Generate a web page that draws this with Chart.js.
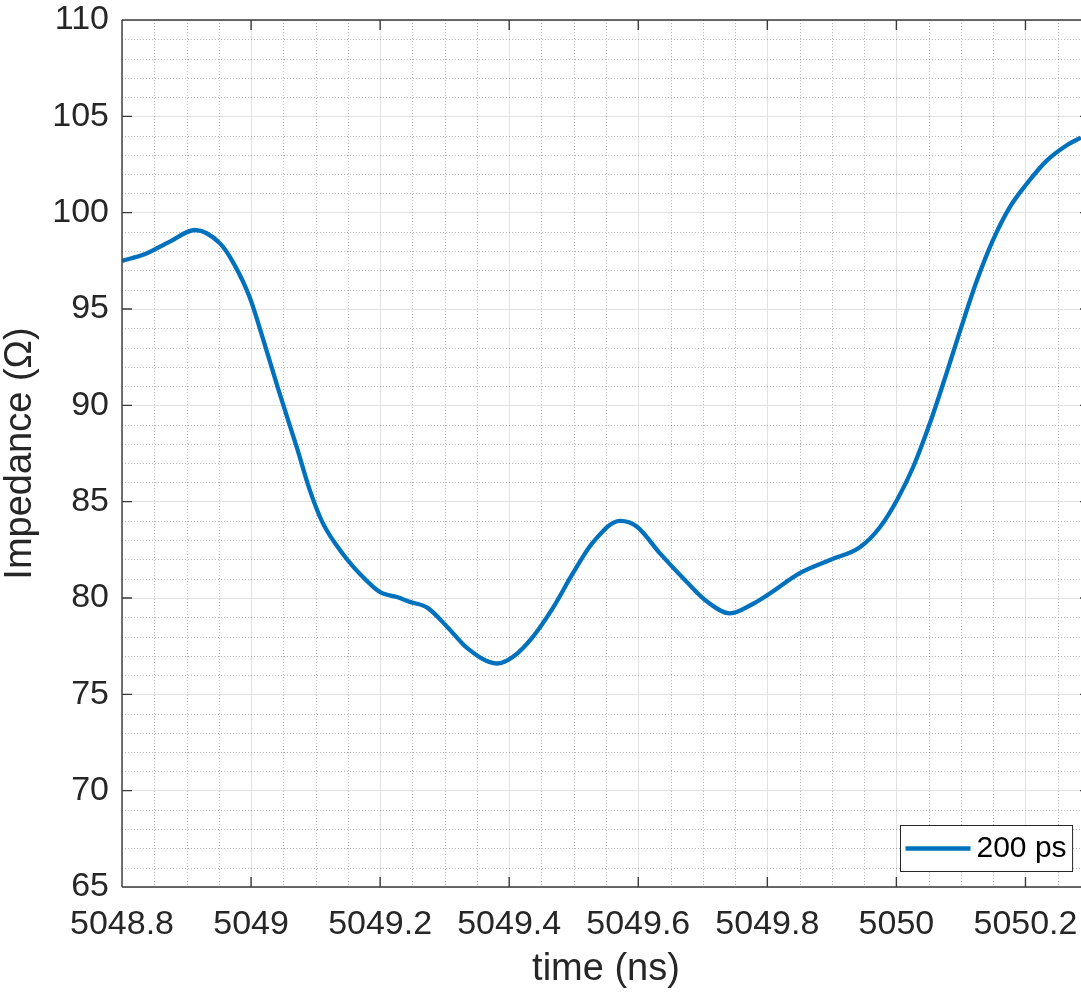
<!DOCTYPE html>
<html>
<head>
<meta charset="utf-8">
<script src="https://cdn.jsdelivr.net/npm/chart.js@4.4.1/dist/chart.umd.min.js"></script>
<style>
  html, body { margin: 0; padding: 0; background: #ffffff; overflow: hidden; }
  #wrap { width: 1081px; height: 992px; position: relative; overflow: hidden; }
  #c { display: block; }
</style>
</head>
<body>
<div id="wrap"><canvas id="c" width="1090" height="992"></canvas></div>
<script>
// ---- data ----
const times = [5048.800, 5048.836, 5048.874, 5048.913, 5048.952, 5048.973, 5048.998, 5049.019, 5049.042, 5049.071,
               5049.091, 5049.111, 5049.142, 5049.173, 5049.200, 5049.226, 5049.246, 5049.273, 5049.304, 5049.335,
               5049.381, 5049.406, 5049.437, 5049.468, 5049.499, 5049.530, 5049.572, 5049.598, 5049.634, 5049.676,
               5049.707, 5049.742, 5049.778, 5049.800, 5049.851, 5049.897, 5049.944, 5049.975, 5050.001, 5050.026,
               5050.052, 5050.078, 5050.099, 5050.125, 5050.150, 5050.176, 5050.202, 5050.233, 5050.264, 5050.286];
const impedance = [97.5, 97.85, 98.5, 99.1, 98.4, 97.37, 95.6, 93.4, 90.85, 87.8,
                   85.6, 83.9, 82.3, 81.1, 80.3, 80.05, 79.8, 79.5, 78.5, 77.4,
                   76.6, 76.95, 78.0, 79.5, 81.3, 82.9, 84.0, 83.7, 82.3, 80.8,
                   79.8, 79.2, 79.7, 80.15, 81.3, 81.97, 82.65, 83.7, 85.09, 86.8,
                   89.08, 91.7, 93.9, 96.5, 98.6, 100.3, 101.5, 102.7, 103.5, 103.9];
const seriesLabel = '200 ps';
const xTickValues = [5048.8, 5049, 5049.2, 5049.4, 5049.6, 5049.8, 5050, 5050.2];
const xTickLabels = ['5048.8', '5049', '5049.2', '5049.4', '5049.6', '5049.8', '5050', '5050.2'];
const yTickValues = [65, 70, 75, 80, 85, 90, 95, 100, 105, 110];
const yTickLabels = ['65', '70', '75', '80', '85', '90', '95', '100', '105', '110'];
const xMin = 5048.8, xMax = 5050.3;
const yMin = 65, yMax = 110;
const xMinorStep = 0.05, yMinorStep = 1;
const xTitle = 'time (ns)';
const yTitle = 'Impedance (\u03A9)';

// ---- styles ----
const FONT = '"Liberation Sans", Arial, Helvetica, sans-serif';
const AX = '#262626';
const LINE = '#0072BD';

const points = times.map((t, i) => ({ x: t, y: impedance[i] }));

function isMultiple(v, step) {
  const r = v / step;
  return Math.abs(r - Math.round(r)) < 1e-6;
}

const matlabAxes = {
  id: 'matlabAxes',
  beforeDatasetsDraw(chart) {
    const { ctx, chartArea: a, scales: { x, y } } = chart;
    ctx.save();
    ctx.beginPath();
    ctx.rect(a.left, a.top, a.right - a.left, a.bottom - a.top);
    ctx.clip();
    ctx.strokeStyle = 'rgba(38,38,38,0.32)';
    ctx.lineWidth = 1;
    ctx.setLineDash([1, 2]);
    ctx.beginPath();
    const xs = Math.ceil(x.min / xMinorStep - 1e-6), xe = Math.floor(x.max / xMinorStep + 1e-6);
    for (let i = xs; i <= xe; i++) {
      const v = i * xMinorStep;
      if (isMultiple(v, 0.2)) continue;
      const px = Math.round(x.getPixelForValue(v)) + 0.5;
      ctx.moveTo(px, a.top); ctx.lineTo(px, a.bottom);
    }
    const ys = Math.ceil(y.min / yMinorStep - 1e-6), ye = Math.floor(y.max / yMinorStep + 1e-6);
    for (let i = ys; i <= ye; i++) {
      const v = i * yMinorStep;
      if (isMultiple(v, 5)) continue;
      const py = Math.round(y.getPixelForValue(v)) + 0.5;
      ctx.moveTo(a.left, py); ctx.lineTo(a.right, py);
    }
    ctx.stroke();
    ctx.restore();
  },
  afterDatasetsDraw(chart) {
    const { ctx, chartArea: a, scales: { x, y } } = chart;
    ctx.save();
    ctx.strokeStyle = '#3a3a3a';
    ctx.lineWidth = 1.4;
    ctx.setLineDash([]);
    // box lines
    ctx.beginPath();
    ctx.moveTo(a.left, a.top); ctx.lineTo(a.right, a.top);
    ctx.moveTo(a.left, a.bottom); ctx.lineTo(a.right, a.bottom);
    ctx.moveTo(a.left, a.top); ctx.lineTo(a.left, a.bottom);
    ctx.moveTo(a.right, a.top); ctx.lineTo(a.right, a.bottom);
    // inward ticks
    const tl = 10;
    xTickValues.forEach(v => {
      const px = x.getPixelForValue(v);
      ctx.moveTo(px, a.bottom); ctx.lineTo(px, a.bottom - tl);
      ctx.moveTo(px, a.top); ctx.lineTo(px, a.top + tl);
    });
    yTickValues.forEach(v => {
      const py = y.getPixelForValue(v);
      ctx.moveTo(a.left, py); ctx.lineTo(a.left + tl, py);
      ctx.moveTo(a.right, py); ctx.lineTo(a.right - tl, py);
    });
    ctx.stroke();

    // legend (southeast, inside axes)
    const ds = chart.data.datasets[0];
    ctx.font = '30px ' + FONT;
    const tw = ctx.measureText(ds.label).width;
    const lineLen = 65, pad = 5, gap = 6;
    const bw = pad + lineLen + gap + tw + 6;
    const bh = 46;
    const bx = Math.round(a.right - 18 - bw) + 0.5;
    const by = Math.round(a.bottom - 16 - bh) + 0.5;
    ctx.fillStyle = '#ffffff';
    ctx.fillRect(bx, by, bw, bh);
    ctx.strokeStyle = '#262626';
    ctx.lineWidth = 1;
    ctx.strokeRect(bx, by, bw, bh);
    const cy = by + bh / 2;
    ctx.strokeStyle = ds.borderColor;
    ctx.lineWidth = ds.borderWidth;
    ctx.beginPath();
    ctx.moveTo(bx + pad, cy); ctx.lineTo(bx + pad + lineLen, cy);
    ctx.stroke();
    ctx.fillStyle = '#000000';
    ctx.textBaseline = 'middle';
    ctx.textAlign = 'left';
    ctx.fillText(ds.label, bx + pad + lineLen + gap, cy);
    ctx.restore();
  }
};

new Chart(document.getElementById('c'), {
  type: 'line',
  data: {
    datasets: [{
      label: seriesLabel,
      data: points,
      borderColor: LINE,
      backgroundColor: LINE,
      borderWidth: 4.3,
      pointRadius: 0,
      fill: false,
      cubicInterpolationMode: 'monotone'
    }]
  },
  options: {
    responsive: false,
    devicePixelRatio: 1,
    animation: false,
    events: [],
    layout: { padding: { top: 20, right: 0, left: 0, bottom: 0 } },
    plugins: { legend: { display: false }, tooltip: { enabled: false } },
    scales: {
      x: {
        type: 'linear',
        min: xMin, max: xMax,
        afterBuildTicks: s => { s.ticks = xTickValues.map(v => ({ value: v })); },
        afterFit: s => { s.height = 105; s.paddingLeft = 0; s.paddingRight = 0; },
        ticks: {
          autoSkip: false, maxRotation: 0, minRotation: 0,
          padding: 17,
          color: AX,
          font: { family: FONT, size: 34 },
          callback: (v) => { const i = xTickValues.findIndex(t => Math.abs(t - v) < 1e-6); return i >= 0 ? xTickLabels[i] : ''; }
        },
        grid: { color: '#e2e2e2', lineWidth: 1, drawTicks: false },
        border: { display: false },
        title: { display: true, text: xTitle, color: AX, font: { family: FONT, size: 38, lineHeight: 1.2 }, padding: { top: 0, bottom: 0 } }
      },
      y: {
        type: 'linear',
        min: yMin, max: yMax,
        afterBuildTicks: s => { s.ticks = yTickValues.map(v => ({ value: v })); },
        afterFit: s => { s.width = 122; s.paddingTop = 0; s.paddingBottom = 0; },
        ticks: {
          autoSkip: false,
          padding: 13,
          color: AX,
          font: { family: FONT, size: 34 },
          callback: (v) => { const i = yTickValues.indexOf(v); return i >= 0 ? yTickLabels[i] : ''; }
        },
        grid: { color: '#e2e2e2', lineWidth: 1, drawTicks: false },
        border: { display: false },
        title: { display: true, text: yTitle, color: AX, font: { family: FONT, size: 38, lineHeight: 1.2 }, padding: { top: -2, bottom: 0 } }
      }
    }
  },
  plugins: [matlabAxes]
});
</script>
</body>
</html>
